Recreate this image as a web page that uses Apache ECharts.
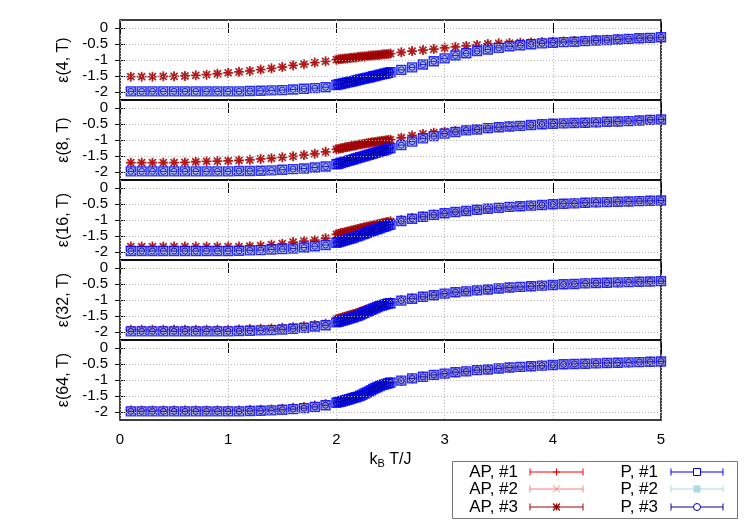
<!DOCTYPE html>
<html>
<head>
<meta charset="utf-8">
<script src="https://cdn.jsdelivr.net/npm/echarts@6/dist/echarts.min.js"></script>
<style>html,body{margin:0;padding:0;background:#fff}#c{width:750px;height:525px}</style>
</head>
<body>
<div id="c"></div>
<script>
// Temperatures k_B T / J
const T = [0.1,0.2,0.3,0.4,0.5,0.6,0.7,0.8,0.9,1.0,1.1,1.2,1.3,1.4,1.5,1.6,1.7,1.8,1.9,
  2.00,2.02,2.04,2.06,2.08,2.10,2.12,2.14,2.16,2.18,2.20,2.22,2.24,2.26,2.28,2.30,2.32,2.34,2.36,2.38,2.40,2.42,2.44,2.46,2.48,2.50,
  2.6,2.7,2.8,2.9,3.0,3.1,3.2,3.3,3.4,3.5,3.6,3.7,3.8,3.9,4.0,4.1,4.2,4.3,4.4,4.5,4.6,4.7,4.8,4.9,5.0];

// L = 4
const apL4 = [-1.52,-1.52,-1.52,-1.51,-1.51,-1.50,-1.48,-1.46,-1.43,-1.40,-1.37,-1.34,-1.30,-1.26,-1.22,-1.17,-1.13,-1.08,-1.04,
  -0.99,-0.98,-0.97,-0.96,-0.95,-0.95,-0.94,-0.93,-0.92,-0.92,-0.91,-0.90,-0.89,-0.89,-0.88,-0.87,-0.86,-0.86,-0.85,-0.84,-0.84,-0.83,-0.82,-0.82,-0.81,-0.80,
  -0.76,-0.72,-0.69,-0.66,-0.62,-0.59,-0.56,-0.53,-0.50,-0.48,-0.47,-0.46,-0.45,-0.44,-0.43,-0.42,-0.41,-0.40,-0.38,-0.37,-0.35,-0.34,-0.32,-0.31,-0.30];
const pL4 = [-1.98,-1.98,-1.98,-1.98,-1.98,-1.98,-1.98,-1.98,-1.98,-1.98,-1.98,-1.97,-1.96,-1.95,-1.94,-1.92,-1.90,-1.88,-1.85,
  -1.78,-1.76,-1.75,-1.73,-1.72,-1.70,-1.69,-1.67,-1.66,-1.64,-1.62,-1.61,-1.59,-1.58,-1.56,-1.55,-1.53,-1.51,-1.50,-1.48,-1.46,-1.45,-1.43,-1.42,-1.40,-1.38,
  -1.31,-1.23,-1.14,-1.04,-0.95,-0.86,-0.79,-0.72,-0.67,-0.62,-0.57,-0.54,-0.51,-0.48,-0.46,-0.44,-0.43,-0.41,-0.39,-0.38,-0.36,-0.34,-0.32,-0.31,-0.29];

// L = 8
const apL8 = [-1.71,-1.71,-1.71,-1.71,-1.71,-1.70,-1.68,-1.67,-1.66,-1.65,-1.64,-1.62,-1.59,-1.57,-1.54,-1.51,-1.47,-1.43,-1.37,
  -1.29,-1.27,-1.26,-1.25,-1.23,-1.22,-1.21,-1.19,-1.18,-1.17,-1.15,-1.14,-1.13,-1.12,-1.10,-1.09,-1.08,-1.07,-1.06,-1.05,-1.04,-1.03,-1.02,-1.01,-1.00,-0.99,
  -0.93,-0.86,-0.81,-0.77,-0.74,-0.72,-0.69,-0.66,-0.63,-0.60,-0.58,-0.56,-0.53,-0.51,-0.49,-0.48,-0.47,-0.46,-0.45,-0.43,-0.42,-0.41,-0.39,-0.37,-0.36];
const pL8 = [-1.98,-1.98,-1.98,-1.98,-1.98,-1.98,-1.98,-1.98,-1.98,-1.98,-1.97,-1.97,-1.96,-1.95,-1.93,-1.91,-1.89,-1.86,-1.83,
  -1.76,-1.74,-1.72,-1.70,-1.68,-1.66,-1.64,-1.62,-1.60,-1.58,-1.56,-1.54,-1.52,-1.50,-1.48,-1.46,-1.44,-1.42,-1.40,-1.38,-1.36,-1.34,-1.32,-1.30,-1.27,-1.25,
  -1.16,-1.05,-0.95,-0.88,-0.80,-0.75,-0.70,-0.67,-0.63,-0.60,-0.58,-0.56,-0.53,-0.51,-0.49,-0.48,-0.47,-0.46,-0.45,-0.43,-0.42,-0.41,-0.39,-0.37,-0.36];

// L = 16
const apL16 = [-1.83,-1.83,-1.83,-1.83,-1.83,-1.83,-1.83,-1.83,-1.83,-1.83,-1.83,-1.82,-1.80,-1.77,-1.74,-1.69,-1.66,-1.63,-1.57,
  -1.45,-1.43,-1.41,-1.40,-1.38,-1.36,-1.35,-1.33,-1.31,-1.30,-1.28,-1.26,-1.25,-1.23,-1.21,-1.20,-1.18,-1.17,-1.15,-1.13,-1.12,-1.10,-1.09,-1.07,-1.06,-1.04,
  -1.00,-0.94,-0.89,-0.83,-0.79,-0.75,-0.72,-0.68,-0.65,-0.62,-0.59,-0.57,-0.55,-0.53,-0.51,-0.49,-0.48,-0.46,-0.45,-0.44,-0.43,-0.42,-0.41,-0.40,-0.39];
const pL16 = [-1.97,-1.97,-1.97,-1.97,-1.97,-1.97,-1.97,-1.97,-1.97,-1.97,-1.96,-1.95,-1.94,-1.92,-1.91,-1.89,-1.86,-1.82,-1.78,
  -1.71,-1.69,-1.67,-1.65,-1.63,-1.61,-1.59,-1.57,-1.55,-1.52,-1.50,-1.48,-1.45,-1.43,-1.40,-1.38,-1.35,-1.33,-1.30,-1.28,-1.26,-1.23,-1.21,-1.19,-1.16,-1.14,
  -1.03,-0.96,-0.90,-0.84,-0.79,-0.75,-0.72,-0.68,-0.65,-0.62,-0.59,-0.57,-0.55,-0.53,-0.51,-0.49,-0.48,-0.46,-0.45,-0.44,-0.43,-0.42,-0.41,-0.40,-0.39];

// L = 32
const apL32 = [-1.93,-1.93,-1.93,-1.93,-1.93,-1.93,-1.93,-1.93,-1.93,-1.93,-1.92,-1.91,-1.90,-1.89,-1.87,-1.85,-1.82,-1.78,-1.74,
  -1.60,-1.58,-1.56,-1.54,-1.52,-1.50,-1.48,-1.46,-1.44,-1.42,-1.40,-1.37,-1.35,-1.32,-1.30,-1.27,-1.25,-1.22,-1.20,-1.18,-1.16,-1.14,-1.12,-1.10,-1.09,-1.07,
  -1.00,-0.95,-0.90,-0.85,-0.80,-0.76,-0.73,-0.70,-0.67,-0.64,-0.61,-0.59,-0.57,-0.55,-0.53,-0.51,-0.50,-0.48,-0.47,-0.46,-0.45,-0.44,-0.43,-0.42,-0.41];
const pL32 = [-1.98,-1.98,-1.98,-1.98,-1.98,-1.98,-1.98,-1.98,-1.98,-1.98,-1.97,-1.96,-1.95,-1.94,-1.92,-1.90,-1.87,-1.83,-1.79,
  -1.70,-1.68,-1.66,-1.64,-1.62,-1.60,-1.58,-1.56,-1.54,-1.51,-1.49,-1.46,-1.43,-1.40,-1.37,-1.34,-1.31,-1.28,-1.25,-1.22,-1.19,-1.17,-1.15,-1.13,-1.11,-1.10,
  -1.02,-0.96,-0.90,-0.85,-0.80,-0.76,-0.73,-0.70,-0.67,-0.64,-0.61,-0.59,-0.57,-0.55,-0.53,-0.51,-0.50,-0.48,-0.47,-0.46,-0.45,-0.44,-0.43,-0.42,-0.41];

// L = 64
const apL64 = [-1.95,-1.95,-1.95,-1.95,-1.95,-1.95,-1.95,-1.95,-1.95,-1.95,-1.95,-1.94,-1.93,-1.92,-1.90,-1.87,-1.84,-1.80,-1.75,
  -1.67,-1.65,-1.64,-1.62,-1.60,-1.59,-1.57,-1.55,-1.53,-1.51,-1.49,-1.47,-1.44,-1.41,-1.38,-1.35,-1.31,-1.28,-1.25,-1.22,-1.19,-1.16,-1.14,-1.12,-1.10,-1.08,
  -1.02,-0.95,-0.90,-0.84,-0.80,-0.76,-0.73,-0.69,-0.67,-0.64,-0.61,-0.59,-0.57,-0.55,-0.53,-0.51,-0.50,-0.49,-0.48,-0.47,-0.46,-0.45,-0.44,-0.43,-0.42];
const pL64 = [-1.98,-1.98,-1.98,-1.98,-1.98,-1.98,-1.98,-1.98,-1.98,-1.98,-1.98,-1.97,-1.96,-1.95,-1.93,-1.91,-1.88,-1.84,-1.79,
  -1.71,-1.69,-1.68,-1.66,-1.64,-1.62,-1.60,-1.58,-1.56,-1.54,-1.52,-1.49,-1.46,-1.42,-1.39,-1.36,-1.32,-1.28,-1.25,-1.22,-1.19,-1.16,-1.14,-1.12,-1.10,-1.08,
  -1.02,-0.95,-0.90,-0.84,-0.80,-0.76,-0.73,-0.69,-0.67,-0.64,-0.61,-0.59,-0.57,-0.55,-0.53,-0.51,-0.50,-0.49,-0.48,-0.47,-0.46,-0.45,-0.44,-0.43,-0.42];

const panelNames = ['ε(4, T)','ε(8, T)','ε(16, T)','ε(32, T)','ε(64, T)'];
const apData = [apL4, apL8, apL16, apL32, apL64];
const pData = [pL4, pL8, pL16, pL32, pL64];
const yTicks = [0, -0.5, -1, -1.5, -2];
const xTicks = [0, 1, 2, 3, 4, 5];
const legendNames = ['AP, #1','AP, #2','AP, #3','P, #1','P, #2','P, #3'];

const FONT = "'Liberation Sans', Arial, sans-serif";
const C = {ap1:'#ff0000', ap2:'#f08080', ap3:'#a00000', p1:'#0000ff', p2:'#add8e6', p3:'#0000b0'};
const GRIDC = '#b8b8b8';

const chart = echarts.init(document.getElementById('c'), null, {renderer:'canvas'});

const grids = [], xAxes = [], yAxes = [], series = [];
const fmtY = v => {
  const r = Math.round(v*2)/2;
  if (Math.abs(v - r) > 1e-6 || v > 0 || v < -2) return '';
  return String(r);
};

const PLUS = 'path://M0,5L10,5M5,0L5,10';
const CROSS = 'path://M0,0L10,10M10,0L0,10';
const STAR = 'path://M0,5L10,5M5,0L5,10M1.5,1.5L8.5,8.5M8.5,1.5L1.5,8.5';
const CIRC = 'path://M0,5A5,5 0 1,1 10,5A5,5 0 1,1 0,5ZM0,5L10,5';

for (let i = 0; i < 5; i++) {
  grids.push({left:120, width:541, top:20 + 80*i, height:80, show:true,
    borderColor:'#000', borderWidth:1.5, backgroundColor:'rgba(0,0,0,0)'});
  const last = i === 4;
  xAxes.push({gridIndex:i, type:'value', min:0, max:5, interval:1, position:'bottom',
    axisLine:{show:false}, axisTick:{show:true, inside:true, length:5, lineStyle:{color:'#000', width:1}},
    splitLine:{show:true, lineStyle:{color:GRIDC, type:[1,2], width:1}},
    axisLabel:{show:last, margin:12, fontSize:15, fontFamily:FONT, color:'#000'},
    name: last ? 'k{sub|B} T/J' : '', nameLocation:'middle', nameGap:30,
    nameTextStyle:{fontSize:16, fontFamily:FONT, color:'#000',
      rich:{sub:{fontSize:11, fontFamily:FONT, color:'#000', padding:[8,0,0,0]}}}});
  xAxes.push({gridIndex:i, type:'value', min:0, max:5, interval:1, position:'top',
    axisLine:{show:false}, axisTick:{show:true, inside:true, length:5, lineStyle:{color:'#000', width:1}},
    splitLine:{show:false}, axisLabel:{show:false}});
  yAxes.push({gridIndex:i, type:'value', min:-2.25, max:0.25, interval:0.25, position:'left',
    axisLine:{show:false},
    axisTick:{show:true, inside:true, length:5, customValues:yTicks, lineStyle:{color:'#000', width:1}},
    splitLine:{show:false},
    axisLabel:{show:true, customValues:yTicks, formatter:fmtY, margin:12, fontSize:15, fontFamily:FONT, color:'#000'},
    name: panelNames[i], nameLocation:'middle', nameRotate:90, nameGap:48,
    nameTextStyle:{fontSize:16, fontFamily:FONT, color:'#000'}});
  yAxes.push({gridIndex:i, type:'value', min:-2.25, max:0.25, interval:0.25, position:'right',
    axisLine:{show:false},
    axisTick:{show:true, inside:true, length:5, customValues:yTicks, lineStyle:{color:'#000', width:1}},
    splitLine:{show:false}, axisLabel:{show:false}});

  const xi = 2*i, yi = 2*i;
  // horizontal grid lines at the labelled y values
  series.push({type:'line', xAxisIndex:xi, yAxisIndex:yi, data:[], silent:true, z:1,
    markLine:{silent:true, symbol:['none','none'], label:{show:false}, animation:false,
      lineStyle:{color:GRIDC, type:[1,2], width:1},
      emphasis:{disabled:true},
      data: yTicks.filter(v => v > -2.25 && v < 0.25).map(v => ({yAxis:v}))}});
  const ap = T.map((t,k) => [t, apData[i][k]]);
  const p = T.map((t,k) => [t, pData[i][k]]);
  const base = {type:'scatter', xAxisIndex:xi, yAxisIndex:yi, silent:true, animation:false,
    emphasis:{disabled:true}};
  series.push(Object.assign({}, base, {name:'AP, #1', data:ap, symbol:PLUS, symbolSize:8, z:3,
    itemStyle:{color:'rgba(0,0,0,0)', borderColor:C.ap1, borderWidth:1}}));
  series.push(Object.assign({}, base, {name:'AP, #2', data:ap, symbol:CROSS, symbolSize:7, z:3,
    itemStyle:{color:'rgba(0,0,0,0)', borderColor:C.ap2, borderWidth:1}}));
  series.push(Object.assign({}, base, {name:'AP, #3', data:ap, symbol:STAR, symbolSize:10, z:3,
    itemStyle:{color:'rgba(0,0,0,0)', borderColor:C.ap3, borderWidth:1.8}}));
  series.push(Object.assign({}, base, {name:'P, #2', data:p, symbol:'rect', symbolSize:9, z:4,
    itemStyle:{color:'#8ea4e6', borderColor:'#8ea4e6', borderWidth:0}}));
  series.push(Object.assign({}, base, {name:'P, #1', data:p, symbol:'rect', symbolSize:9, z:4,
    itemStyle:{color:'rgba(0,0,0,0)', borderColor:C.p1, borderWidth:1.4}}));
  series.push(Object.assign({}, base, {name:'P, #3', data:p, symbol:CIRC, symbolSize:6, z:4,
    itemStyle:{color:'rgba(0,0,0,0)', borderColor:C.p3, borderWidth:1}}));
}

// key box (drawn as graphic: text left of an error-bar sample)
const graphics = [];
graphics.push({type:'rect', shape:{x:452.5, y:461.5, width:285, height:57},
  style:{fill:'#fff', stroke:'#777', lineWidth:1}, z:10});
const rowsY = [472, 489, 507];
const cols = [{tx:518, x0:530, x1:583}, {tx:658, x0:671, x1:723}];
const keyColors = [C.ap1, C.ap2, C.ap3, C.p1, C.p2, C.p3];
function keyMarker(kind, cx, cy, col) {
  const s = 3.5, out = [];
  const ln = (x1,y1,x2,y2,w) => out.push({type:'line', shape:{x1,y1,x2,y2}, style:{stroke:col, lineWidth:w||1}, z:12});
  if (kind === 0) { ln(cx-s,cy,cx+s,cy); ln(cx,cy-s,cx,cy+s); }
  if (kind === 1) { ln(cx-s,cy-s,cx+s,cy+s); ln(cx+s,cy-s,cx-s,cy+s); }
  if (kind === 2) { ln(cx-s,cy,cx+s,cy,1.3); ln(cx,cy-s,cx,cy+s,1.3); ln(cx-s,cy-s,cx+s,cy+s,1.3); ln(cx+s,cy-s,cx-s,cy+s,1.3); }
  if (kind === 3) out.push({type:'rect', shape:{x:cx-s, y:cy-s, width:2*s, height:2*s}, style:{fill:'#fff', stroke:col, lineWidth:1}, z:12});
  if (kind === 4) out.push({type:'rect', shape:{x:cx-s, y:cy-s, width:2*s, height:2*s}, style:{fill:col, stroke:col, lineWidth:0}, z:12});
  if (kind === 5) out.push({type:'circle', shape:{cx, cy, r:s}, style:{fill:'#fff', stroke:col, lineWidth:1}, z:12});
  return out;
}
legendNames.forEach((nm, k) => {
  const col = cols[k < 3 ? 0 : 1], y = rowsY[k % 3], c = keyColors[k];
  graphics.push({type:'text', x:col.tx, y:y, z:11,
    style:{text:nm, fill:'#000', font:'17px ' + FONT, textAlign:'right', textVerticalAlign:'middle'}});
  graphics.push({type:'line', shape:{x1:col.x0, y1:y, x2:col.x1, y2:y}, style:{stroke:c, lineWidth:1}, z:11});
  graphics.push({type:'line', shape:{x1:col.x0, y1:y-3.5, x2:col.x0, y2:y+3.5}, style:{stroke:c, lineWidth:1}, z:11});
  graphics.push({type:'line', shape:{x1:col.x1, y1:y-3.5, x2:col.x1, y2:y+3.5}, style:{stroke:c, lineWidth:1}, z:11});
  keyMarker(k, (col.x0+col.x1)/2, y, c).forEach(g => graphics.push(g));
});

chart.setOption({
  animation:false,
  backgroundColor:'#fff',
  grid:grids, xAxis:xAxes, yAxis:yAxes, series:series, graphic:graphics
});
</script>
</body>
</html>
